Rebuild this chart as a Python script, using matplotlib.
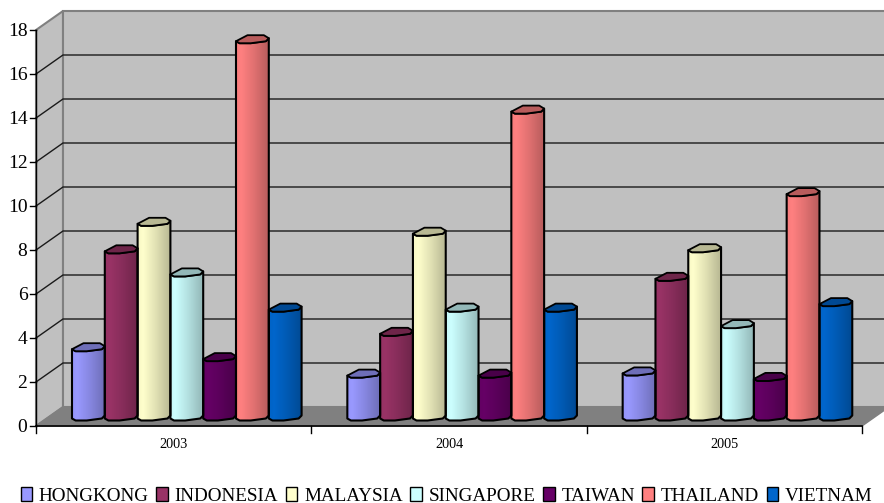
import numpy as np
import matplotlib
matplotlib.use("Agg")
import matplotlib.pyplot as plt
from matplotlib.colors import to_rgb
from matplotlib.patches import Polygon, Rectangle

plt.rcParams['font.family'] = ['Liberation Serif', 'DejaVu Serif']

years = ['2003', '2004', '2005']
countries = ['HONGKONG', 'INDONESIA', 'MALAYSIA', 'SINGAPORE', 'TAIWAN', 'THAILAND', 'VIETNAM']
hongkong = [3.15, 1.95, 2.05]
indonesia = [7.6, 3.85, 6.35]
malaysia = [8.85, 8.4, 7.65]
singapore = [6.55, 4.95, 4.2]
taiwan = [2.7, 1.95, 1.8]
thailand = [17.15, 13.95, 10.2]
vietnam = [4.95, 4.95, 5.2]
series = [hongkong, indonesia, malaysia, singapore, taiwan, thailand, vietnam]
colors = ['#9999FF', '#993366', '#FFFFCC', '#CCFFFF', '#660066', '#FF8080', '#0066CC']
y_ticks = list(range(0, 19, 2))

W, H = 884, 503
fig = plt.figure(figsize=(W / 100, H / 100), dpi=100, facecolor='white')
# Front plane of the pseudo-3D box
ax = fig.add_axes([36 / W, (H - 426) / H, 826 / W, 396 / H])
ax.set_xlim(0, 3)
ax.set_ylim(0, 18)
ax.axis('off')

PX_X = 3 / 826    # category units per pixel
PX_Y = 18 / 396   # value units per pixel
DX, DY = 27 * PX_X, 19 * PX_Y   # box depth
BAR_W = 32.8 * PX_X
GROUP_PAD = 36 * PX_X
BASE = 9.5 * PX_Y   # bars stand at mid depth of the floor


def poly(pts, **kw):
    p = Polygon(pts, closed=True, clip_on=False, **kw)
    ax.add_patch(p)
    return p


# Walls and floor
poly([(0, 0), (DX, DY), (DX, 18 + DY), (0, 18)], fc='#C0C0C0', ec='#808080', lw=1.5, zorder=1)
poly([(DX, DY), (3 + DX, DY), (3 + DX, 18 + DY), (DX, 18 + DY)], fc='#C0C0C0', ec='#808080', lw=1.5, zorder=1)
poly([(0, 0), (DX, DY), (3 + DX, DY), (3, 0)], fc='#808080', ec='#808080', lw=1, zorder=2)

# Gridlines across side and back walls
for v in y_ticks[1:-1]:
    ax.plot([0, DX, 3 + DX], [v, v + DY, v + DY], color='#1a1a1a', lw=1.0, clip_on=False, zorder=2,
            solid_joinstyle='miter')

# Axis lines and ticks
ax.plot([0, 0], [0, 18], color='black', lw=1, clip_on=False, zorder=3)
ax.plot([0, 3], [0, 0], color='black', lw=1.2, clip_on=False, zorder=3)
for v in y_ticks:
    ax.plot([-6 * PX_X, 0], [v, v], color='black', lw=1, clip_on=False, zorder=3)
    ax.text(-8.5 * PX_X, v - 1.5 * PX_Y, str(v), ha='right', va='center', fontsize=14, zorder=3)
for i in range(4):
    ax.plot([i, i], [0, -7 * PX_Y], color='black', lw=1, clip_on=False, zorder=3)
for i, y in enumerate(years):
    ax.text(i + 0.5, -18 * PX_Y, y, ha='center', va='center', fontsize=10.3, zorder=3)

# Octagonal cross-section: (fraction of half width, pixel offset in y)
BACK = [(-1, 2), (-0.3, -4), (0.7, -4), (1, -1)]
FRONT = [(0.82, 2), (-0.1, 4), (-0.78, 4)]


def draw_bar(x0, value, color, z):
    cx = x0 + BAR_W / 2
    hw = BAR_W / 2
    top = BASE + value

    def pts(seq, y0):
        return [(cx + a * hw, y0 - b * PX_Y) for a, b in seq]

    front_edge = [BACK[0]] + FRONT[::-1] + [BACK[3]]
    outline = pts(front_edge, BASE) + pts(front_edge[::-1], top)
    rgb = np.array(to_rgb(color))
    stops = np.interp(np.linspace(0, 1, 64), [0, 0.15, 0.55, 1], [0.97, 1.0, 0.88, 0.72])
    grad = (stops[None, :, None] * rgb[None, None, :]).clip(0, 1)
    im = ax.imshow(grad, extent=(cx - hw, cx + hw, BASE - 4 * PX_Y, top + 4 * PX_Y),
                   aspect='auto', interpolation='bilinear', zorder=z)
    body = Polygon(outline, closed=True, fc='none', ec='black', lw=1.5, clip_on=False,
                   joinstyle='round', zorder=z + 0.2)
    ax.add_patch(body)
    im.set_clip_path(body)
    poly(pts(BACK + FRONT, top), fc=tuple(rgb * 0.72), ec='black', lw=1.3, joinstyle='round', zorder=z + 0.3)


for g in range(len(years)):
    for s, vals in enumerate(series):
        draw_bar(g + GROUP_PAD + s * BAR_W, vals[g], colors[s], 4 + g + s * 0.1)

ax.set_xlim(0, 3)
ax.set_ylim(0, 18)

# Legend along the bottom
handles = [Rectangle((0, 0), 1, 1, fc=c, ec='black', lw=1) for c in colors]
fig.legend(handles, countries, loc='lower center', bbox_to_anchor=(446.5 / W, -0.009), ncol=7,
           frameon=False, fontsize=13.8, handlelength=0.6, handleheight=0.72, handletextpad=0.35,
           columnspacing=0.4, borderpad=0.0, borderaxespad=0.15)

fig.savefig('out.png', dpi=100, facecolor='white')
